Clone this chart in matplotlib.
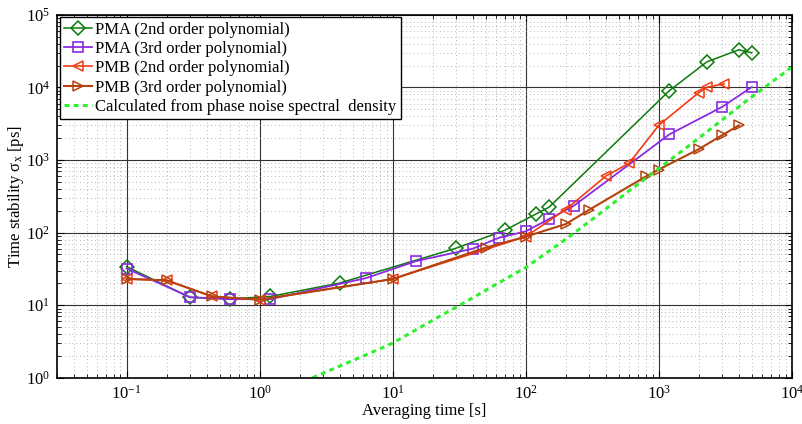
import numpy as np
import matplotlib.pyplot as plt

plt.rcParams['font.family'] = ['Liberation Serif', 'DejaVu Serif']
plt.rcParams['mathtext.fontset'] = 'custom'
plt.rcParams['mathtext.rm'] = 'Liberation Serif'
plt.rcParams['mathtext.it'] = 'Liberation Serif:italic'

# Data (averaging time [s], time stability [ps])
pma2_tau = [0.1, 0.3, 0.6, 1.2, 4, 30, 70, 120, 150, 1200, 2300, 4000, 5000]
pma2_sig = [34, 12.8, 12.2, 13.2, 20.2, 61, 108, 181, 224, 9000, 22500, 33000, 30000]

pma3_tau = [0.1, 0.3, 0.6, 1.2, 6.3, 15, 40, 63, 100, 150, 230, 1200, 3000, 5000]
pma3_sig = [32, 12.9, 12.1, 12.1, 23.6, 40.5, 60, 85, 104, 154, 234, 2250, 5400, 10100]

pmb2_tau = [0.1, 0.2, 0.44, 1.0, 10, 100, 200, 400, 600, 1000, 2000, 2300, 3100]
pmb2_sig = [23, 22, 13.2, 11.9, 22.9, 88, 208, 600, 906, 3000, 8500, 10050, 11200]

pmb3_tau = [0.1, 0.2, 0.44, 1.0, 10, 50, 100, 200, 300, 800, 1000, 2000, 3000, 4000]
pmb3_sig = [23, 22, 13.2, 11.9, 22.9, 62, 88, 131, 206, 593, 740, 1410, 2200, 3000]

psd_tau = [2.5, 4, 6, 10, 20, 35, 60, 100, 200, 350, 600, 1000, 2000, 4500, 10000]
psd_sig = [1.0, 1.45, 1.99, 3.0, 6.2, 11, 19.4, 33, 81, 175, 377, 760, 2000, 6400, 19000]

fig = plt.figure(figsize=(8.03, 4.24), dpi=100)
ax = fig.add_axes([0.071, 0.109, 0.915, 0.856])

ax.plot(pma2_tau, pma2_sig, color='#0b7a0b', lw=1.1, marker='D', ms=6.8, mfc='none',
        mew=1.1, label='PMA (2nd order polynomial)')
ax.plot(pma3_tau, pma3_sig, color='#8a2be2', lw=1.3, marker='s', ms=7, mfc='none',
        mew=1.2, label='PMA (3rd order polynomial)')
ax.plot(pmb2_tau, pmb2_sig, color='#f03c14', lw=1.2, marker='<', ms=6.5, mfc='none',
        mew=1.1, label='PMB (2nd order polynomial)')
ax.plot(pmb3_tau, pmb3_sig, color='#b5420e', lw=1.5, marker='>', ms=6.5, mfc='none',
        mew=1.1, label='PMB (3rd order polynomial)')
ax.plot(psd_tau, psd_sig, color='#2ef02e', lw=2.2, ls=(0, (1.6, 1.4)),
        label='Calculated from phase noise spectral  density')

ax.set_xscale('log')
ax.set_yscale('log')
ax.set_xlim(0.03, 1e4)
ax.set_ylim(1, 1e5)

ax.grid(True, which='major', color='#333333', lw=0.8, ls='-')
ax.grid(True, which='minor', color='#a0a0a0', lw=0.6, ls=(0, (1, 3.5)))
ax.tick_params(which='both', direction='in', top=True, right=True, labelsize=12)
ax.tick_params(which='major', length=5, width=0.8, pad=5)
ax.tick_params(which='minor', length=3, width=0.6)
for s in ax.spines.values():
    s.set_linewidth(1.2)

ax.set_xlabel('Averaging time [s]', fontsize=12, labelpad=0)
ax.set_ylabel('Time stability σ$_\\mathrm{x}$ [ps]', fontsize=12, labelpad=0)

leg = ax.legend(loc='upper left', fontsize=12, fancybox=False, framealpha=1,
                edgecolor='black', borderaxespad=0.15, labelspacing=0.2,
                handlelength=1.7, handletextpad=0.2, borderpad=0.25)
leg.get_frame().set_linewidth(1.0)

fig.savefig('out.png', dpi=100)
